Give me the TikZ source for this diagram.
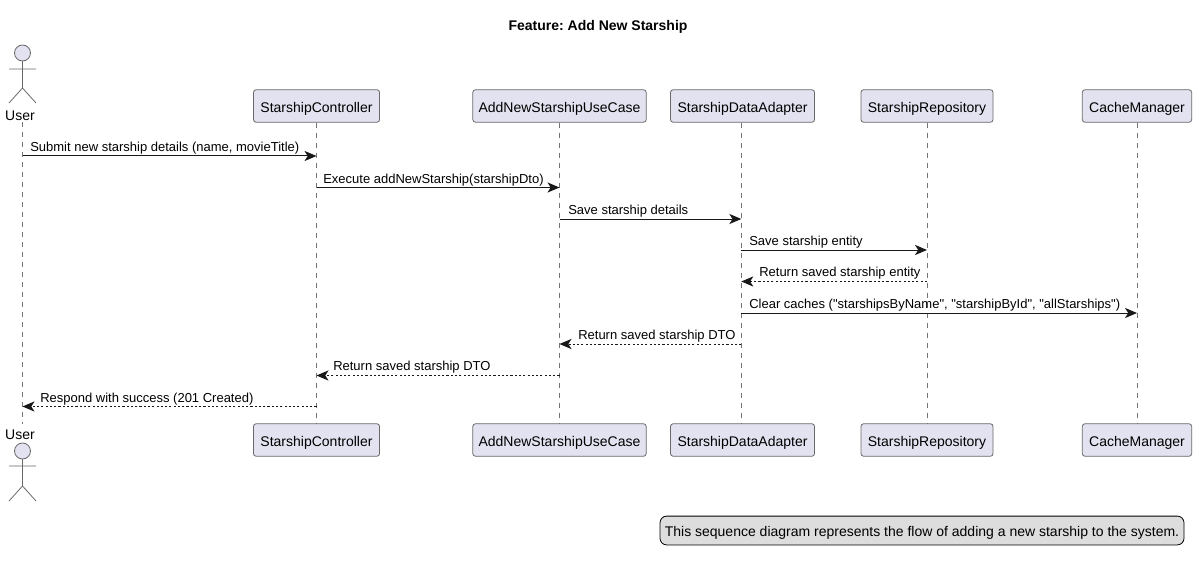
\documentclass[tikz,border=0pt]{standalone}
\usepackage{fontspec}
\setmainfont{Liberation Sans}
\newfontfamily\plainsans{Liberation Sans}
\usetikzlibrary{arrows.meta}
\definecolor{boxfill}{HTML}{E2E2F0}
\definecolor{ink}{HTML}{181818}
\definecolor{notefill}{HTML}{DDDDDD}
\tikzset{
  partbox/.style={draw=ink!65,line width=0.6pt,fill=boxfill,rounded corners=2pt,minimum height=24.4pt,inner sep=0pt,text height=9.6pt,text depth=0pt,font=\fontsize{10.5pt}{12pt}\selectfont},
  actorpart/.style={draw=ink!65,line width=0.6pt,fill=boxfill},
  actorline/.style={draw=ink!65,line width=0.6pt},
  actorname/.style={font=\fontsize{10.5pt}{12pt}\selectfont,inner sep=0pt},
  lifeline/.style={draw=ink!60,line width=0.4pt,dash pattern=on 3.75pt off 3.75pt},
  msg/.style={draw=ink,line width=0.75pt,-{Stealth[length=9pt,width=7.6pt,inset=2.4pt]}},
  retmsg/.style={msg,dash pattern=on 1.6pt off 1.6pt},
  msglabel/.style={anchor=base west,inner sep=0pt,font=\plainsans\fontsize{9.75pt}{12pt}\selectfont},
  notebox/.style={draw=black,line width=0.6pt,fill=notefill,rounded corners=5pt,inner sep=0pt,minimum width=393pt,minimum height=21.6pt,text height=9.2pt,text depth=0pt,font=\fontsize{10.5pt}{12pt}\selectfont},
  titletext/.style={font=\fontsize{10.5pt}{12pt}\selectfont\bfseries,inner sep=0pt}
}
\begin{document}
\begin{tikzpicture}[x=0.75pt,y=-0.75pt]
\frenchspacing
\useasboundingbox (0,0) rectangle (1202,563);
\node[titletext] (title) at (598,26.5) {Feature: Add New Starship};

% lifeline anchors for the actor
\coordinate (uT) at (22.5,122);
\coordinate (uB) at (22.5,424);

% participant boxes
\node[partbox,minimum width=94.5pt] (cT) at (316.5,106) {StarshipController};
\node[partbox,minimum width=130pt] (aT) at (559.5,106) {AddNewStarshipUseCase};
\node[partbox,minimum width=108pt] (dT) at (742.5,106) {StarshipDataAdapter};
\node[partbox,minimum width=99pt] (rT) at (927,106) {StarshipRepository};
\node[partbox,minimum width=82pt] (mT) at (1137,106) {CacheManager};
\node[partbox,minimum width=94.5pt] (cB) at (316.5,440) {StarshipController};
\node[partbox,minimum width=130pt] (aB) at (559.5,440) {AddNewStarshipUseCase};
\node[partbox,minimum width=108pt] (dB) at (742.5,440) {StarshipDataAdapter};
\node[partbox,minimum width=99pt] (rB) at (927,440) {StarshipRepository};
\node[partbox,minimum width=82pt] (mB) at (1137,440) {CacheManager};

% the adapter's lifeline runs just left of its box centre
\coordinate (dL) at ([xshift=-0.9pt]dT.south);
\coordinate (dM) at ([xshift=-0.9pt]dB.north);

% lifelines
\draw[lifeline] (uT) -- (uB);
\draw[lifeline] (cT) -- (cB);
\draw[lifeline] (aT) -- (aB);
\draw[lifeline] (dL) -- (dM);
\draw[lifeline] (rT) -- (rB);
\draw[lifeline] (mT) -- (mB);

% actors
\node[actorname] (userT) at (20,116) {User};
\draw[actorpart] (22.5,53) circle[radius=8];
\draw[actorline] (22.5,61) -- (22.5,88) (9,69) -- (36,69) (9,103) -- (22.5,88) -- (36,103);
\node[actorname] (userB) at (20,435) {User};
\draw[actorpart] (22.5,451) circle[radius=8];
\draw[actorline] (22.5,459) -- (22.5,486) (9,466) -- (36,466) (9,501) -- (22.5,486) -- (36,501);

% message rows
\coordinate (r1) at (0,156);
\coordinate (r2) at (0,187.5);
\coordinate (r3) at (0,219);
\coordinate (r4) at (0,250);
\coordinate (r5) at (0,281.5);
\coordinate (r6) at (0,313);
\coordinate (r7) at (0,344);
\coordinate (r8) at (0,375.5);
\coordinate (r9) at (0,406.5);

\draw[msg] (uT |- r1) -- (cT |- r1);
\draw[msg] (cT |- r2) -- (aT |- r2);
\draw[msg] (aT |- r3) -- (dL |- r3);
\draw[msg] (dL |- r4) -- (rT |- r4);
\draw[retmsg] (rT |- r5) -- (dL |- r5);
\draw[msg] (dL |- r6) -- (mT |- r6);
\draw[retmsg] (dL |- r7) -- (aT |- r7);
\draw[retmsg] (aT |- r8) -- (cT |- r8);
\draw[retmsg] (cT |- r9) -- (uT |- r9);

\node[msglabel] (l1) at (30,151.5) {Submit new starship details (name, movieTitle)};
\node[msglabel] (l2) at (323,183) {Execute addNewStarship(starshipDto)};
\node[msglabel] (l3) at (568,214.5) {Save starship details};
\node[msglabel] (l4) at (749,245.5) {Save starship entity};
\node[msglabel] (l5) at (759,276.5) {Return saved starship entity};
\node[msglabel] (l6) at (749,308.5) {Clear caches ("starshipsByName", "starshipById", "allStarships")};
\node[msglabel] (l7) at (578,339.5) {Return saved starship DTO};
\node[msglabel] (l8) at (333,370.5) {Return saved starship DTO};
\node[msglabel] (l9) at (40,402) {Respond with success (201 Created)};

\node[notebox] (note) at (922,530.5) {This sequence diagram represents the flow of adding a new starship to the system.};
\end{tikzpicture}
\end{document}
